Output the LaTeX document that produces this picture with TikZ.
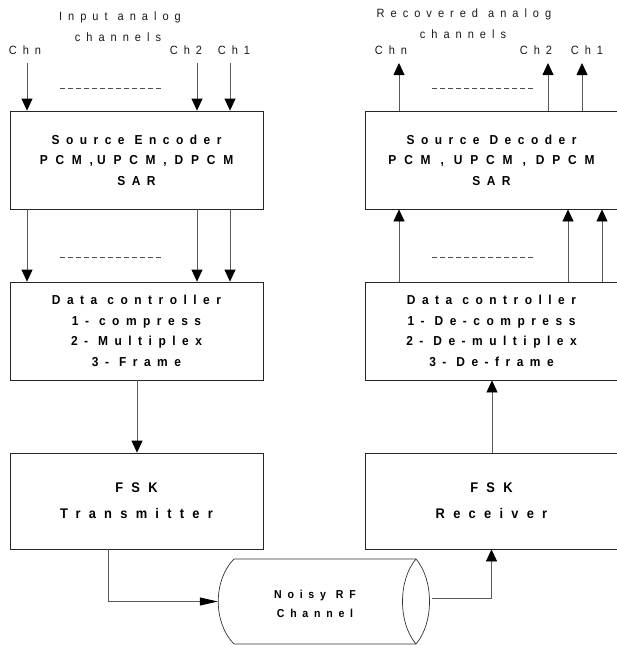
\documentclass[tikz,border=0pt]{standalone}
\usepackage{fontspec}
\setmainfont{Liberation Sans}
\newfontfamily\lsf[LetterSpace=50,FakeStretch=0.92]{Liberation Sans}
\newfontfamily\lsfw[LetterSpace=59,FakeStretch=0.92]{Liberation Sans}
\newcommand\gap[1]{\hbox to #1{\hfil}}
\newcommand\ws{\gap{10pt}}
\newcommand\wideline{\addfontfeature{LetterSpace=60}}
\newcommand\boxfont{\lsf\bfseries\fontsize{13}{20.5}\selectfont}
\newcommand\fskfont{\lsfw\bfseries\fontsize{14}{26}\selectfont}
\newcommand\lblfont{\lsf\fontsize{12}{14}\selectfont}
\newcommand\rffont{\lsf\bfseries\fontsize{11.5}{19}\selectfont}
\usetikzlibrary{arrows.meta,calc}
\begin{document}
\begin{tikzpicture}[x=1pt,y=-1pt,
  box/.style={draw=black!85, line width=0.8pt, minimum width=253pt, inner sep=0pt, align=center,
    font=\boxfont, text=black},
  fskbox/.style={box, font=\fskfont},
  lbl/.style={inner sep=0pt, font=\lblfont, text=black!90},
  conn/.style={draw=black!65, line width=0.8pt},
  arr/.style={conn, -{Triangle[length=12pt,width=11pt,color=black]}},
  harr/.style={conn, -{Triangle[length=18pt,width=8pt,color=black]}},
  dots/.style={draw=black!70, line width=0.7pt, dash pattern=on 5pt off 3pt},
  cyl/.style={draw=black!80, line width=0.7pt}]
\useasboundingbox (0,0) rectangle (616,645);

% ---------- left column ----------
\node[box, minimum height=98pt] (enc) at (136.5,160)
  {Source\ws Encoder\\{\wideline PCM,\gap{4pt}UPCM,DPCM}\\SAR};
\node[box, minimum height=98pt] (dc) at (136.5,331)
  {Data\ws controller\\1-\ws compress\\2-\ws Multiplex\\3-\ws Frame};
\node[fskbox, minimum height=96pt] (tx) at (136.5,501)
  {FSK\\Transmitter};

% ---------- right column ----------
\node[box, minimum height=98pt] (dec) at (491.5,160)
  {Source\ws Decoder\\{\wideline PCM\ws,\ws UPCM\ws,\ws DPCM}\\SAR};
\node[box, minimum height=98pt] (ddc) at (491.5,331)
  {Data\ws controller\\1-\ws De-compress\\2-\ws De-multiplex\\3-\ws De-frame};
\node[fskbox, minimum height=96pt] (rx) at (491.5,501)
  {FSK\\Receiver};

% ---------- labels ----------
\node[lbl] (inlbl1) at (120,17) {Input\ws analog};
\node[lbl] (inlbl2) at (118,37) {channels};
\node[lbl] (lchnl) at (25,50) {Chn};
\node[lbl] (lch2l) at (186,50) {Ch2};
\node[lbl] (lch1l) at (234,50) {Ch1};
\node[lbl] (outlbl1) at (464,14) {Recovered\ws analog};
\node[lbl] (outlbl2) at (463,34) {channels};
\node[lbl] (rchnl) at (391,50) {Chn};
\node[lbl] (rch2l) at (536,50) {Ch2};
\node[lbl] (rch1l) at (587,50) {Ch1};

% ---------- channel coordinates ----------
\coordinate (lchn) at (27,63);
\coordinate (lch2) at (197,63);
\coordinate (lch1) at (230,63);
\coordinate (rchn) at (399,63);
\coordinate (rch2) at (548,63);
\coordinate (rch1) at (582,63);
\coordinate (rb2) at (568,0);
\coordinate (rb1) at (602,0);

% ---------- left arrows ----------
\draw[arr] (lchn) -- (lchn |- enc.north);
\draw[arr] (lch2) -- (lch2 |- enc.north);
\draw[arr] (lch1) -- (lch1 |- enc.north);
\draw[arr] (enc.south -| lchn) -- (dc.north -| lchn);
\draw[arr] (enc.south -| lch2) -- (dc.north -| lch2);
\draw[arr] (enc.south -| lch1) -- (dc.north -| lch1);
\coordinate (dcout) at (137,0);
\draw[arr] (dc.south -| dcout) -- (tx.north -| dcout);

% ---------- right arrows ----------
\draw[arr] (dec.north -| rchn) -- (rchn);
\draw[arr] (dec.north -| rch2) -- (rch2);
\draw[arr] (dec.north -| rch1) -- (rch1);
\draw[arr] (ddc.north -| rchn) -- (dec.south -| rchn);
\draw[arr] (ddc.north -| rb2) -- (dec.south -| rb2);
\draw[arr] (ddc.north -| rb1) -- (dec.south -| rb1);
\coordinate (rxout) at (492,0);
\draw[arr] (rx.north -| rxout) -- (ddc.south -| rxout);

% ---------- dashed separators ----------
\draw[dots] (60,88) -- (163,88);
\draw[dots] (60,257) -- (163,257);
\draw[dots] (432,88) -- (535,88);
\draw[dots] (432,257) -- (535,257);

% ---------- channel cylinder ----------
\node[minimum width=214pt, minimum height=85pt, inner sep=0pt] (rf) at (325,601.5) {};
\draw[cyl] (234,559) -- (416,559) .. controls (434,580) and (434,623) .. (416,644)
  -- (234,644) .. controls (213,623) and (213,580) .. (234,559);
\draw[cyl] (416,559) .. controls (398,580) and (398,623) .. (416,644);
\node[align=center, inner sep=0pt, font=\rffont, text=black]
  (rftxt) at (315,603.5) {Noisy\ws RF\\Channel};

\coordinate (txout) at (108,0);
\draw[harr] (tx.south -| txout) |- (rf.west);
\coordinate (rfout) at (432,598);
\draw[arr] (rfout) -| (rx.south);
\end{tikzpicture}
\end{document}
